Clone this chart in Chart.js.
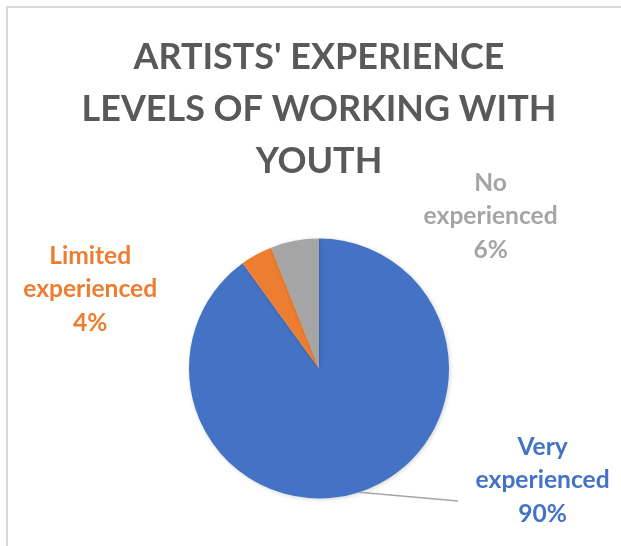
<!DOCTYPE html>
<html>
<head>
<meta charset="utf-8">
<script src="https://cdn.jsdelivr.net/npm/chart.js@4.4.0/dist/chart.umd.min.js"></script>
<style>
    html, body { margin: 0; padding: 0; background: #fff; }
    .frame {
        position: absolute; left: 6px; top: 6px; width: 700px; height: 600px;
        border-top: 2px solid #d9d9d9; border-left: 2px solid #d9d9d9;
    }
    #expChart { position: absolute; left: 0; top: 0; }
</style>
</head>
<body>
<div class="frame"></div>
<canvas id="expChart" width="621" height="546"></canvas>
<script>
// Datos del gráfico
const categories = ['Very experienced', 'Limited experienced', 'No experienced'];
const percents = [90, 4, 6];
const sliceColors = ['#4472C4', '#ED7D31', '#A5A5A5'];
const titleLines = ["ARTISTS' EXPERIENCE", 'LEVELS OF WORKING WITH', 'YOUTH'];

const FONT = 'Lato, "Open Sans", sans-serif';

// Ajusta el tamaño de letra a un ancho dado
function fitSize(text, targetWidth) {
    const c = document.createElement('canvas').getContext('2d');
    c.font = `bold 40px ${FONT}`;
    return 40 * targetWidth / c.measureText(text).width;
}
const titleSize = fitSize(titleLines[1], 475);
const labelSize = fitSize('experienced', 134);

// Posición de cada etiqueta respecto al centro, en radios
const labelOffsets = [[1.72, 0.86], [-1.76, -0.61], [1.32, -1.17]];

const outsideLabels = {
    id: 'outsideLabels',
    afterDatasetsDraw(chart) {
        const { ctx } = chart;
        const meta = chart.getDatasetMeta(0);
        const first = meta.data[0];
        const cx = first.x, cy = first.y, r = first.outerRadius;

        // línea guía de la porción mayor
        const mid = (first.startAngle + first.endAngle) / 2;
        ctx.save();
        ctx.strokeStyle = '#a6a6a6';
        ctx.lineWidth = 1.5;
        ctx.beginPath();
        ctx.moveTo(cx + Math.cos(mid) * r, cy + Math.sin(mid) * r);
        ctx.lineTo(cx + 1.07 * r, cy + 1.02 * r);
        ctx.stroke();

        ctx.font = `bold ${labelSize}px ${FONT}`;
        ctx.textAlign = 'center';
        ctx.textBaseline = 'middle';
        const lh = labelSize * 1.36;
        meta.data.forEach((arc, i) => {
            const lines = categories[i].split(' ').concat(percents[i] + '%');
            const x = cx + labelOffsets[i][0] * r;
            const y = cy + labelOffsets[i][1] * r;
            ctx.fillStyle = sliceColors[i];
            lines.forEach((t, k) => {
                ctx.fillText(t, x, y + (k - (lines.length - 1) / 2) * lh);
            });
        });
        ctx.restore();
    }
};

const pieShadow = {
    id: 'pieShadow',
    beforeDatasetsDraw(chart) {
        const { ctx } = chart;
        ctx.save();
        ctx.shadowColor = 'rgba(0,0,0,0.18)';
        ctx.shadowBlur = 4;
        ctx.shadowOffsetX = 1;
        ctx.shadowOffsetY = 1;
    },
    afterDatasetsDraw(chart) {
        chart.ctx.restore();
    }
};

new Chart(document.getElementById('expChart'), {
    type: 'pie',
    data: {
        labels: categories,
        datasets: [{
            data: percents,
            backgroundColor: sliceColors,
            borderWidth: 0,
            hoverOffset: 0,
            radius: 130
        }]
    },
    options: {
        responsive: false,
        animation: false,
        layout: { padding: { left: 17, right: 0, top: 0, bottom: 47.5 } },
        plugins: {
            legend: { display: false },
            tooltip: { enabled: false },
            title: {
                display: true,
                text: titleLines,
                color: '#595959',
                font: { family: FONT, size: titleSize, weight: 'bold', lineHeight: 52 / titleSize },
                padding: { top: 31, bottom: 51.5 }
            }
        }
    },
    plugins: [pieShadow, outsideLabels]
});
</script>
</body>
</html>
